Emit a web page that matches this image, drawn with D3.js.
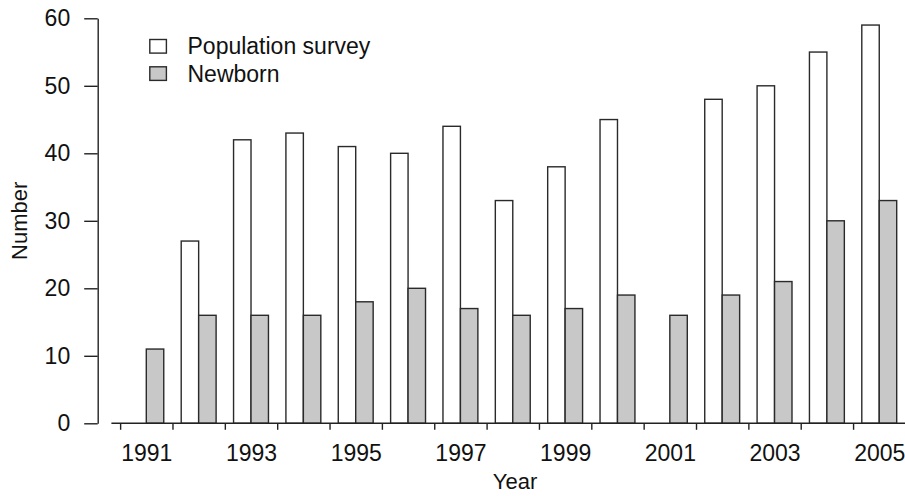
<!DOCTYPE html>
<html>
<head>
<meta charset="utf-8">
<script src="https://cdn.jsdelivr.net/npm/d3@7"></script>
<style>
  html, body { margin: 0; padding: 0; background: #fff; }
  svg { display: block; }
  text { font-family: "Liberation Sans", Arial, Helvetica, sans-serif; fill: #111; }
</style>
</head>
<body>
<svg id="chart" width="905" height="496"></svg>
<script>
const years = [1991,1992,1993,1994,1995,1996,1997,1998,1999,2000,2001,2002,2003,2004,2005];
const seriesNames = ["Population survey", "Newborn"];
const populationSurvey = [0,27,42,43,41,40,44,33,38,45,0,48,50,55,59];
const newborn = [11,16,16,16,18,20,17,16,17,19,16,19,21,30,33];
const yTicks = [0,10,20,30,40,50,60];
const xLabelYears = [1991,1993,1995,1997,1999,2001,2003,2005];
const seriesColors = ["#ffffff", "#c8c8c8"];

const svg = d3.select("#chart");
const W = 905, H = 496;
const plotLeft = 111.4, plotRight = 896.7;
const yAxisX = 97.7;

const y = d3.scaleLinear().domain([0, 60]).range([423.3, 18.3]);
const x0 = d3.scaleBand().domain(years).range([plotLeft, plotRight]).paddingInner(0).paddingOuter(0);
const bw = x0.bandwidth();
const x1 = d3.scaleBand().domain(seriesNames).range([bw / 3, bw]).padding(0);
// continuous year scale for tick marks at year boundaries
const xYear = d3.scaleLinear().domain([1990.5, 2005.5])
  .range([x0(1991) + bw / 3 - x1.bandwidth() / 2, x0(2005) + bw / 3 - x1.bandwidth() / 2 + bw]);

const data = years.map((yr, i) => ({ year: yr, values: [populationSurvey[i], newborn[i]] }));

// bars
const groups = svg.append("g").selectAll("g").data(data).join("g")
  .attr("transform", d => `translate(${x0(d.year)},0)`);
groups.selectAll("rect")
  .data(d => d.values.map((v, j) => ({ name: seriesNames[j], value: v, j })).filter(e => e.value > 0))
  .join("rect")
  .attr("x", e => x1(e.name))
  .attr("width", x1.bandwidth())
  .attr("y", e => y(e.value))
  .attr("height", e => y(0) - y(e.value))
  .attr("fill", e => seriesColors[e.j])
  .attr("stroke", "#2a2a2a")
  .attr("stroke-width", 1.4);

// y axis
const yAxis = d3.axisLeft(y).tickValues(yTicks).tickSize(13.5).tickPadding(14).tickSizeOuter(0);
const gy = svg.append("g").attr("transform", `translate(${yAxisX},0)`).call(yAxis);
gy.selectAll("path.domain").attr("stroke", "#222").attr("stroke-width", 1.4);
gy.selectAll(".tick line").attr("stroke", "#222").attr("stroke-width", 1.4);
gy.selectAll(".tick text").attr("font-size", 23).attr("font-family", '"Liberation Sans", Arial, sans-serif').attr("fill", "#111");

// x axis: tick marks at year boundaries
const boundaries = d3.range(1990.5, 2006, 1);
const xAxisTicks = d3.axisBottom(xYear).tickValues(boundaries).tickFormat("").tickSize(6.5).tickSizeOuter(0);
const gx = svg.append("g").attr("transform", `translate(0,${y(0)})`).call(xAxisTicks);
gx.select("path.domain").remove();
gx.selectAll(".tick line").attr("stroke", "#222").attr("stroke-width", 1.4);
gx.append("line")
  .attr("x1", plotLeft).attr("x2", W)
  .attr("y1", 0).attr("y2", 0)
  .attr("stroke", "#222").attr("stroke-width", 1.4);

// x labels
const xAxisLabels = d3.axisBottom(xYear).tickValues(xLabelYears).tickFormat(d3.format("d")).tickSize(0).tickPadding(0);
const gxl = svg.append("g").attr("transform", `translate(0,${y(0)})`).call(xAxisLabels);
gxl.select("path.domain").remove();
gxl.selectAll(".tick text")
  .attr("y", 38).attr("dy", null)
  .attr("font-size", 23).attr("font-family", '"Liberation Sans", Arial, sans-serif').attr("fill", "#111");

// axis titles
svg.append("text")
  .attr("x", 515).attr("y", 488.5)
  .attr("text-anchor", "middle").attr("font-size", 22)
  .text("Year");
svg.append("text")
  .attr("transform", `translate(26.5,${(y(0) + y(60)) / 2}) rotate(-90)`)
  .attr("text-anchor", "middle").attr("font-size", 22)
  .text("Number");

// legend
const legend = svg.append("g");
seriesNames.forEach((name, i) => {
  const cy = 46.3 + i * 27.3;
  legend.append("rect")
    .attr("x", 149.8).attr("y", cy - 6.8).attr("width", 16.6).attr("height", 13.6)
    .attr("fill", seriesColors[i]).attr("stroke", "#2a2a2a").attr("stroke-width", 1.4);
  legend.append("text")
    .attr("x", 187.5).attr("y", cy + 8)
    .attr("font-size", 23)
    .text(name);
});
</script>
</body>
</html>
